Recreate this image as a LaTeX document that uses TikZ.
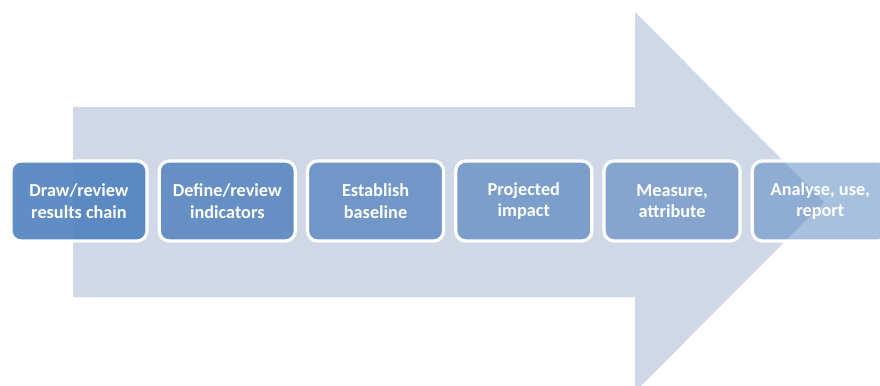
\documentclass[tikz,border=0pt]{standalone}
\usepackage{fontspec}
\setmainfont{Carlito}
\usepackage{tikz}
\usetikzlibrary{positioning}

\definecolor{arrowgrey}{RGB}{208,216,232}
\definecolor{stepblue}{RGB}{79,129,189}

\begin{document}
\begin{tikzpicture}
	[x=0.75pt,y=-0.75pt,
	stepbox/.style={rectangle,rounded corners=7.5pt,draw=white,line width=2.4pt,
		fill=stepblue,text=white,text opacity=1,draw opacity=1,
		minimum width=102pt,minimum height=60pt,align=center,
		font=\fontsize{13.7}{16}\selectfont\bfseries},
	node distance=6.8pt]
\useasboundingbox (0,0) rectangle (880,385);
%flecha de fondo
\fill[arrowgrey]
(73,107) -- (635,107) -- (635,12) -- (824,202) -- (635,392) -- (635,297) -- (73,297) -- cycle;
%pasos
\node (draw) at (79,201) [stepbox,fill opacity=0.9] {Draw/review\\results chain};
\node (define) [stepbox,fill opacity=0.82,right=of draw] {Define/review\\indicators};
\node (baseline) [stepbox,fill opacity=0.74,right=of define] {Establish\\baseline};
\node (impact) [stepbox,fill opacity=0.66,right=of baseline] {Projected\\impact};
\node (measure) [stepbox,fill opacity=0.58,right=of impact] {Measure,\\attribute};
\node (report) [stepbox,fill opacity=0.5,right=of measure] {Analyse, use,\\report};
\end{tikzpicture}
\end{document}
